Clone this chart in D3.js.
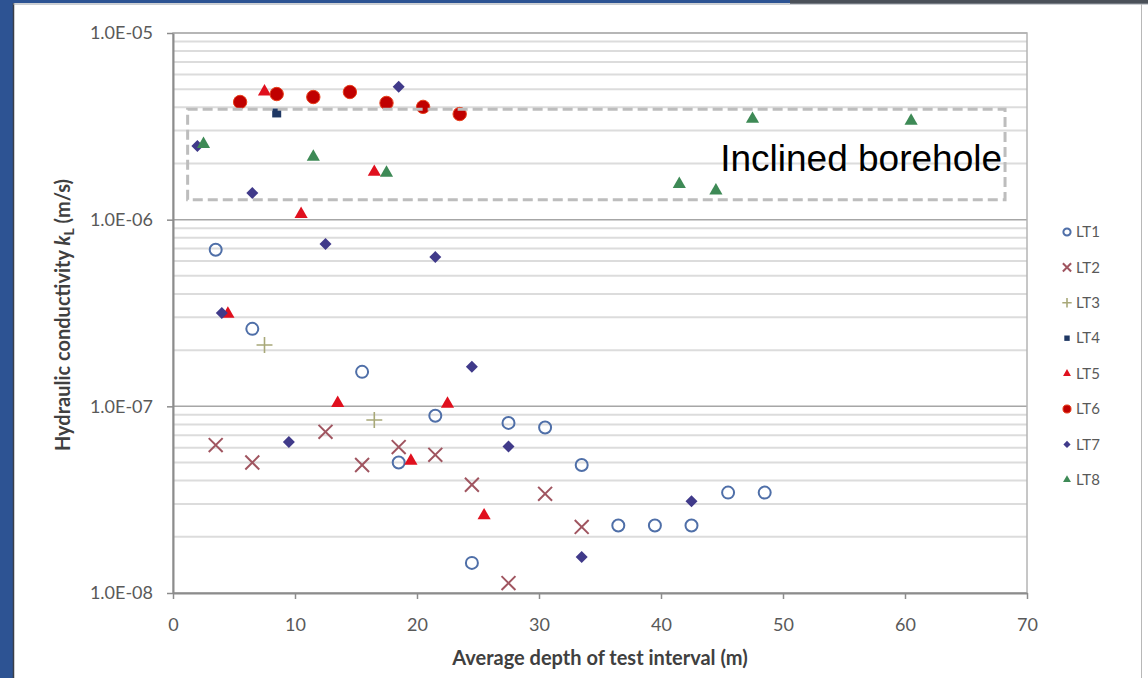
<!DOCTYPE html>
<html>
<head>
<meta charset="utf-8">
<title>hydraulic conductivity vs depth</title>
<script src="https://cdn.jsdelivr.net/npm/d3@7"></script>
<style>
body { margin:0; background:#fff; }
svg { display:block; }
</style>
</head>
<body>
<div id="chart"></div>
<script>
var width = 1148, height = 678;

// series data (depth in m, k in m/s)
var seriesNames = ["LT1", "LT2", "LT3", "LT4", "LT5", "LT6", "LT7", "LT8"];
var lt1Depth = [3.5, 6.5, 15.5, 18.5, 21.5, 24.5, 27.5, 30.5, 33.5, 36.5, 39.5, 42.5, 45.5, 48.5];
var lt1K = [6.9e-7, 2.6e-7, 1.53e-7, 5.0e-8, 8.9e-8, 1.45e-8, 8.15e-8, 7.7e-8, 4.85e-8, 2.3e-8, 2.3e-8, 2.3e-8, 3.45e-8, 3.45e-8];
var lt2Depth = [3.5, 6.5, 12.5, 15.5, 18.5, 21.5, 24.5, 27.5, 30.5, 33.5];
var lt2K = [6.2e-8, 5.0e-8, 7.3e-8, 4.85e-8, 6.05e-8, 5.5e-8, 3.8e-8, 1.13e-8, 3.4e-8, 2.26e-8];
var lt3Depth = [7.5, 16.5];
var lt3K = [2.13e-7, 8.45e-8];
var lt4Depth = [8.5];
var lt4K = [3.73e-6];
var lt5Depth = [4.5, 7.5, 10.5, 13.5, 16.5, 19.5, 22.5, 25.5];
var lt5K = [3.13e-7, 4.85e-6, 1.07e-6, 1.04e-7, 1.8e-6, 5.1e-8, 1.03e-7, 2.6e-8];
var lt6Depth = [5.5, 8.5, 11.5, 14.5, 17.5, 20.5, 23.5];
var lt6K = [4.27e-6, 4.71e-6, 4.54e-6, 4.83e-6, 4.22e-6, 4.02e-6, 3.68e-6];
var lt7Depth = [2.0, 4.0, 6.5, 9.5, 12.5, 18.5, 21.5, 24.5, 27.5, 33.5, 42.5];
var lt7K = [2.48e-6, 3.16e-7, 1.39e-6, 6.45e-8, 7.4e-7, 5.15e-6, 6.3e-7, 1.63e-7, 6.1e-8, 1.56e-8, 3.1e-8];
var lt8Depth = [2.5, 11.5, 17.5, 41.5, 44.5, 47.5, 60.5];
var lt8K = [2.54e-6, 2.17e-6, 1.78e-6, 1.55e-6, 1.43e-6, 3.46e-6, 3.38e-6];

// axes
var xTicks = [0, 10, 20, 30, 40, 50, 60, 70];
var yTicks = [1e-8, 1e-7, 1e-6, 1e-5];
var yTickLabels = ["1.0E-08", "1.0E-07", "1.0E-06", "1.0E-05"];

// dashed annotation box (data units) and its label
var boxDepth = [1.2, 68.2];
var boxK = [1.28e-6, 3.9e-6];
var boxLabel = "Inclined borehole";

var allDepth = [lt1Depth, lt2Depth, lt3Depth, lt4Depth, lt5Depth, lt6Depth, lt7Depth, lt8Depth];
var allK = [lt1K, lt2K, lt3K, lt4K, lt5K, lt6K, lt7K, lt8K];

// marker styles
var styles = {
  LT1: { shape: "circle", size: 113, fill: "none", stroke: "#4f6fa8", sw: 2 },
  LT2: { shape: "times", size: 128, fill: "none", stroke: "#a05560", sw: 2 },
  LT3: { shape: "plus", size: 85, fill: "none", stroke: "#a8a878", sw: 1.6 },
  LT4: { shape: "square", size: 81, fill: "#1f3864", stroke: "none", sw: 0 },
  LT5: { shape: "triangle", size: 75, fill: "#e0101e", stroke: "none", sw: 0 },
  LT6: { shape: "circle", size: 141, fill: "#c00000", stroke: "#e8401c", sw: 1 },
  LT7: { shape: "diamond", size: 72, fill: "#403a8a", stroke: "none", sw: 0 },
  LT8: { shape: "triangle", size: 75, fill: "#3e8a56", stroke: "none", sw: 0 }
};
var shapeTypes = {
  circle: d3.symbolCircle, times: d3.symbolTimes, plus: d3.symbolPlus,
  square: d3.symbolSquare, triangle: d3.symbolTriangle, diamond: d3.symbolSquare
};

var font = "Lato, 'Open Sans', sans-serif";

var svg = d3.select("#chart").append("svg")
  .attr("width", width).attr("height", height);

// slide frame
svg.append("rect").attr("x", 0).attr("y", 0).attr("width", width).attr("height", height).attr("fill", "#ffffff");
svg.append("rect").attr("x", 0).attr("y", 0).attr("width", 13).attr("height", height).attr("fill", "#2d5393");
svg.append("rect").attr("x", 0).attr("y", 0).attr("width", 790).attr("height", 3).attr("fill", "#2d5393");
svg.append("rect").attr("x", 790).attr("y", 0).attr("width", width - 790).attr("height", 4).attr("fill", "#4b5159");
svg.append("line").attr("x1", 13.5).attr("x2", 13.5).attr("y1", 3).attr("y2", height).attr("stroke", "#3a3f48").attr("stroke-width", 1.5);
svg.append("line").attr("x1", 13).attr("x2", width).attr("y1", 4).attr("y2", 4).attr("stroke", "#9aa0a8").attr("stroke-width", 1);
svg.append("line").attr("x1", 1141.5).attr("x2", 1141.5).attr("y1", 4).attr("y2", height).attr("stroke", "#b8b8b8").attr("stroke-width", 1);

var x = d3.scaleLinear().domain([0, 70]).range([173, 1027]);
var y = d3.scaleLog().domain([1e-8, 1e-5]).range([593, 33]);

// minor gridlines
var minor = [];
for (var e = -8; e < -5; e++) {
  for (var m = 2; m <= 9; m++) minor.push(m * Math.pow(10, e));
}
svg.append("g").selectAll("line").data(minor).join("line")
  .attr("x1", x(0)).attr("x2", x(70))
  .attr("y1", function(d) { return y(d); }).attr("y2", function(d) { return y(d); })
  .attr("stroke", "#dcdcdc").attr("stroke-width", 2);

// major gridlines
svg.append("g").selectAll("line").data(yTicks).join("line")
  .attr("x1", x(0)).attr("x2", x(70))
  .attr("y1", function(d) { return y(d); }).attr("y2", function(d) { return y(d); })
  .attr("stroke", "#a6a6a6").attr("stroke-width", 1.5);

// plot border
svg.append("rect").attr("x", x(0)).attr("y", y(1e-5))
  .attr("width", x(70) - x(0)).attr("height", y(1e-8) - y(1e-5))
  .attr("fill", "none").attr("stroke", "#b4b4b4").attr("stroke-width", 1.5);

// axes
var xAxis = svg.append("g").attr("transform", "translate(0," + y(1e-8) + ")")
  .call(d3.axisBottom(x).tickValues(xTicks).tickSize(6).tickSizeOuter(0));
xAxis.selectAll("text").attr("y", 38).attr("dy", null);

var yAxis = svg.append("g").attr("transform", "translate(" + x(0) + ",0)")
  .call(d3.axisLeft(y).tickValues(yTicks).tickSize(6).tickSizeOuter(0)
    .tickFormat(function(d, i) { return yTickLabels[i]; }));
yAxis.selectAll("text").attr("x", -20);

svg.selectAll(".domain").attr("stroke", "#8c8c8c").attr("stroke-width", 2);
svg.selectAll(".tick line").attr("stroke", "#8c8c8c").attr("stroke-width", 1.5);
svg.selectAll(".tick text").attr("fill", "#595959")
  .attr("font-family", font).attr("font-size", 18);

// marker helper
function drawMarker(sel, name, scale) {
  var s = styles[name];
  var path = d3.symbol().type(shapeTypes[s.shape]).size(s.size * scale * scale)();
  sel.attr("d", path)
    .attr("fill", s.fill).attr("stroke", s.stroke).attr("stroke-width", s.sw);
}

// points
seriesNames.forEach(function(name, si) {
  var pts = allDepth[si].map(function(d, i) { return [d, allK[si][i]]; });
  var rot = styles[name].shape === "diamond" ? " rotate(45)" : "";
  svg.append("g").selectAll("path").data(pts).join("path")
    .attr("transform", function(p) { return "translate(" + x(p[0]) + "," + y(p[1]) + ")" + rot; })
    .call(drawMarker, name, 1);
});

// annotation box
svg.append("rect")
  .attr("x", x(boxDepth[0])).attr("y", y(boxK[1]))
  .attr("width", x(boxDepth[1]) - x(boxDepth[0]))
  .attr("height", y(boxK[0]) - y(boxK[1]))
  .attr("fill", "none").attr("stroke", "#bdbdbd").attr("stroke-width", 3)
  .attr("stroke-dasharray", "10,5");

svg.append("text")
  .attr("x", x(boxDepth[1]) - 3).attr("y", 171)
  .attr("text-anchor", "end")
  .attr("font-family", "'Liberation Sans', Arial, sans-serif").attr("font-size", 37)
  .attr("fill", "#000").text(boxLabel);

// legend
var legend = svg.append("g").attr("transform", "translate(1067,232)");
seriesNames.forEach(function(name, i) {
  var g = legend.append("g").attr("transform", "translate(0," + (i * 35.4) + ")");
  var rot = styles[name].shape === "diamond" ? " rotate(45)" : "";
  g.append("path").attr("transform", "translate(0,0)" + rot).call(drawMarker, name, 0.6);
  g.append("text").attr("x", 9).attr("y", 0).attr("dy", "0.35em")
    .attr("font-family", font).attr("font-size", 15)
    .attr("fill", "#595959").text(name);
});

// axis titles
svg.append("text")
  .attr("x", (x(0) + x(70)) / 2).attr("y", 665)
  .attr("text-anchor", "middle")
  .attr("font-family", font).attr("font-weight", "bold").attr("font-size", 20)
  .attr("fill", "#404040").text("Average depth of test interval (m)");

var yTitle = svg.append("text")
  .attr("transform", "translate(70," + ((y(1e-5) + y(1e-8)) / 2 + 2) + ") rotate(-90)")
  .attr("text-anchor", "middle")
  .attr("font-family", font).attr("font-weight", "bold").attr("font-size", 20)
  .attr("fill", "#404040");
yTitle.append("tspan").text("Hydraulic conductivity ");
yTitle.append("tspan").attr("font-style", "italic").text("k");
yTitle.append("tspan").attr("font-size", 14).attr("dy", 4).text("L");
yTitle.append("tspan").attr("dy", -4).text(" (m/s)");
</script>
</body>
</html>
